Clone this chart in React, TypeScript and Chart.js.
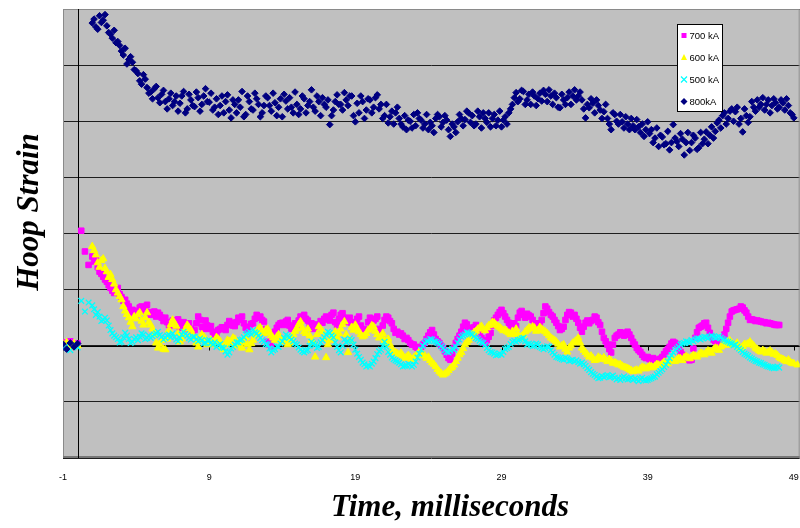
import { useEffect, useRef } from 'react';
import { Chart, registerables } from 'chart.js';

Chart.register(...registerables);

// Sample times (ms)
const TIME = [
  -1, -0.75, -0.5, -0.25, 0, 0.25, 0.5, 0.75,
  1, 1.25, 1.5, 1.75, 2, 2.25, 2.5, 2.75, 3, 3.25, 3.5, 3.75, 4, 4.25, 4.5, 4.75,
  5, 5.25, 5.5, 5.75, 6, 6.25, 6.5, 6.75, 7, 7.25, 7.5, 7.75, 8, 8.25, 8.5, 8.75,
  9, 9.25, 9.5, 9.75, 10, 10.25, 10.5, 10.75, 11, 11.25, 11.5, 11.75, 12, 12.25, 12.5, 12.75,
  13, 13.25, 13.5, 13.75, 14, 14.25, 14.5, 14.75, 15, 15.25, 15.5, 15.75, 16, 16.25, 16.5, 16.75,
  17, 17.25, 17.5, 17.75, 18, 18.25, 18.5, 18.75, 19, 19.25, 19.5, 19.75, 20, 20.25, 20.5, 20.75,
  21, 21.25, 21.5, 21.75, 22, 22.25, 22.5, 22.75, 23, 23.25, 23.5, 23.75, 24, 24.25, 24.5, 24.75,
  25, 25.25, 25.5, 25.75, 26, 26.25, 26.5, 26.75, 27, 27.25, 27.5, 27.75, 28, 28.25, 28.5, 28.75,
  29, 29.25, 29.5, 29.75, 30, 30.25, 30.5, 30.75, 31, 31.25, 31.5, 31.75, 32, 32.25, 32.5, 32.75,
  33, 33.25, 33.5, 33.75, 34, 34.25, 34.5, 34.75, 35, 35.25, 35.5, 35.75, 36, 36.25, 36.5, 36.75,
  37, 37.25, 37.5, 37.75, 38, 38.25, 38.5, 38.75, 39, 39.25, 39.5, 39.75, 40, 40.25, 40.5, 40.75,
  41, 41.25, 41.5, 41.75, 42, 42.25, 42.5, 42.75, 43, 43.25, 43.5, 43.75, 44, 44.25, 44.5, 44.75,
  45, 45.25, 45.5, 45.75, 46, 46.25, 46.5, 46.75, 47, 47.25, 47.5, 47.75, 48, 48.25, 48.5, 48.75,
  49, 49.25,
];

// In-between sample times (denser part of the record)
const TIME_B = [
  1.125, 1.375, 1.625, 1.875, 2.125, 2.375, 2.625, 2.875, 3.125, 3.375, 3.625, 3.875,
  4.125, 4.375, 4.625, 4.875, 5.125, 5.375, 5.625, 5.875, 6.125, 6.375, 6.625, 6.875,
  7.125, 7.375, 7.625, 7.875, 8.125, 8.375, 8.625, 8.875, 9.125, 9.375, 9.625, 9.875,
  10.125, 10.375, 10.625, 10.875, 11.125, 11.375, 11.625, 11.875, 12.125, 12.375, 12.625, 12.875,
  13.125, 13.375, 13.625, 13.875, 14.125, 14.375, 14.625, 14.875, 15.125, 15.375, 15.625, 15.875,
  16.125, 16.375, 16.625, 16.875, 17.125, 17.375, 17.625, 17.875, 18.125, 18.375, 18.625, 18.875,
  19.125, 19.375, 19.625, 19.875, 20.125, 20.375, 20.625, 20.875, 21.125, 21.375, 21.625, 21.875,
  22.125, 22.375, 22.625, 22.875, 23.125, 23.375, 23.625, 23.875, 24.125, 24.375, 24.625, 24.875,
  25.125, 25.375, 25.625, 25.875, 26.125, 26.375, 26.625, 26.875, 27.125, 27.375, 27.625, 27.875,
  28.125, 28.375, 28.625, 28.875, 29.125, 29.375, 29.625, 29.875, 30.125, 30.375, 30.625, 30.875,
  31.125, 31.375, 31.625, 31.875, 32.125, 32.375, 32.625, 32.875, 33.125, 33.375, 33.625, 33.875,
  34.125, 34.375, 34.625, 34.875, 35.125, 35.375, 35.625, 35.875, 36.125, 36.375, 36.625, 36.875,
  37.125, 37.375, 37.625, 37.875, 38.125, 38.375, 38.625, 38.875, 39.125, 39.375, 39.625, 39.875,
  40.125, 40.375, 40.625, 40.875, 41.125, 41.375, 41.625, 41.875, 42.125, 42.375, 42.625, 42.875,
  43.125, 43.375, 43.625, 43.875, 44.125, 44.375, 44.625, 44.875, 45.125, 45.375, 45.625, 45.875,
  46.125, 46.375, 46.625, 46.875, 47.125, 47.375, 47.625, 47.875, 48.125, 48.375, 48.625, 48.875,
];

const KA700 = [
  0.06, -0.03, 0.08, 0.0, 0.04, 2.05, 1.68, 1.44,
  1.59, 1.53, 1.32, 1.23, 1.14, 1.03, 0.94, 1.03, 0.87, 0.82, 0.70, 0.64, 0.55, 0.68, 0.62, 0.73,
  0.55, 0.61, 0.59, 0.50, 0.50, 0.37, 0.45, 0.41, 0.32, 0.42, 0.35, 0.30, 0.28, 0.52, 0.34, 0.45,
  0.30, 0.25, 0.22, 0.30, 0.32, 0.37, 0.41, 0.35, 0.50, 0.52, 0.32, 0.34, 0.40, 0.55, 0.52, 0.43,
  0.07, -0.02, 0.25, 0.37, 0.41, 0.43, 0.36, 0.34, 0.38, 0.52, 0.55, 0.45, 0.40, 0.35, 0.32, 0.41,
  0.52, 0.45, 0.59, 0.37, 0.55, 0.50, 0.46, 0.40, 0.42, 0.52, 0.23, 0.30, 0.50, 0.45, 0.52, 0.23,
  0.46, 0.50, 0.40, 0.23, 0.20, 0.18, 0.14, 0.05, 0.02, -0.04, -0.02, 0.05, 0.18, 0.28, 0.12, 0.05,
  -0.04, -0.16, -0.25, -0.04, 0.12, 0.25, 0.41, 0.32, 0.28, 0.37, 0.23, 0.07, 0.10, 0.23, 0.45, 0.55,
  0.64, 0.52, 0.41, 0.28, 0.35, 0.59, 0.55, 0.57, 0.52, 0.40, 0.34, 0.46, 0.70, 0.60, 0.52, 0.41,
  0.28, 0.34, 0.55, 0.59, 0.55, 0.41, 0.25, 0.41, 0.40, 0.46, 0.50, 0.37, 0.14, 0.02, -0.12, 0.14,
  0.20, 0.23, 0.20, 0.20, 0.07, -0.04, -0.11, -0.20, -0.20, -0.25, -0.25, -0.25, -0.20, -0.10, -0.02, 0.07,
  0.02, -0.11, -0.20, -0.25, -0.25, 0.14, 0.32, 0.36, 0.41, 0.23, 0.11, 0.05, 0.02, 0.20, 0.41, 0.61,
  0.64, 0.66, 0.68, 0.59, 0.46, 0.46, 0.45, 0.43, 0.42, 0.41, 0.39, 0.37, 0.37, null, null, null,
  null, null,
];

const KA700_B = [
  1.50, 1.40, 1.28, 1.18, 1.08, 0.98, 1.00, 0.92, 0.80, 0.75, 0.60, 0.58,
  0.62, 0.70, 0.66, 0.60, 0.58, 0.52, 0.55, 0.44, 0.42, 0.40, 0.36, 0.47,
  0.38, 0.30, 0.40, 0.26, 0.40, 0.46, 0.30, 0.36, 0.35, 0.20, 0.28, 0.33,
  0.28, 0.44, 0.36, 0.42, 0.46, 0.40, 0.28, 0.39, 0.48, 0.50, 0.46, 0.30,
  0.02, 0.12, 0.32, 0.40, 0.37, 0.46, 0.30, 0.40, 0.45, 0.50, 0.48, 0.38,
  0.30, 0.38, 0.44, 0.48, 0.47, 0.55, 0.42, 0.48, 0.58, 0.42, 0.50, 0.36,
  0.48, 0.36, 0.26, 0.42, 0.40, 0.48, 0.30, 0.36, 0.52, 0.44, 0.30, 0.25,
  0.22, 0.12, 0.10, 0.02, -0.02, -0.06, 0.02, 0.12, 0.24, 0.20, 0.08, 0.00,
  -0.10, -0.22, -0.14, 0.05, 0.18, 0.34, 0.38, 0.30, 0.33, 0.30, 0.14, 0.05,
  0.16, 0.36, 0.50, 0.60, 0.58, 0.46, 0.34, 0.40, 0.50, 0.62, 0.50, 0.54,
  0.46, 0.36, 0.40, 0.58, 0.66, 0.55, 0.46, 0.35, 0.30, 0.46, 0.60, 0.52,
  0.48, 0.32, 0.34, 0.45, 0.44, 0.52, 0.42, 0.25, 0.08, -0.06, 0.02, 0.18,
  0.24, 0.18, 0.25, 0.14, 0.02, -0.08, -0.16, -0.22, -0.24, -0.22, -0.27, -0.23,
  -0.15, -0.06, 0.04, 0.05, -0.04, -0.16, -0.23, -0.26, -0.05, 0.24, 0.34, 0.40,
  0.32, 0.16, 0.08, 0.04, 0.10, 0.30, 0.52, 0.63, 0.65, 0.70, 0.63, 0.52,
  0.47, 0.44, 0.44, 0.42, 0.40, 0.40, 0.38, 0.37, null, null, null, null,
];

const KA600 = [
  0.03, 0.06, -0.02, 0.04, 0.0, null, null, null,
  1.77, 1.62, 1.40, 1.55, 1.32, 1.27, 1.10, 0.94, 0.82, 0.62, 0.50, 0.34, 0.48, 0.59, 0.37, 0.59,
  0.37, 0.20, -0.04, 0.10, -0.07, 0.28, 0.46, 0.35, 0.07, 0.20, 0.37, 0.28, 0.15, -0.02, 0.20, 0.12,
  0.05, 0.02, 0.15, 0.08, -0.07, 0.10, 0.04, 0.12, 0.02, -0.04, 0.15, -0.07, 0.10, 0.25, 0.32, 0.22,
  0.30, 0.18, 0.10, 0.20, 0.07, 0.12, 0.05, 0.20, 0.30, 0.43, 0.25, 0.30, 0.10, -0.20, 0.34, 0.25,
  -0.21, 0.10, 0.20, 0.15, 0.30, 0.43, -0.12, 0.33, 0.37, 0.25, 0.16, 0.22, 0.30, 0.34, 0.20, 0.16,
  0.10, 0.12, -0.07, -0.12, -0.16, -0.18, -0.20, -0.21, -0.21, -0.15, -0.12, -0.18, -0.20, -0.30, -0.37, -0.46,
  -0.52, -0.48, -0.40, -0.34, -0.22, -0.12, 0.02, 0.10, 0.20, 0.26, 0.32, 0.30, 0.32, 0.38, 0.41, 0.35,
  0.30, 0.28, 0.23, 0.26, 0.30, 0.14, 0.20, 0.28, 0.30, 0.32, 0.28, 0.30, 0.25, 0.18, 0.12, 0.07,
  -0.02, 0.02, -0.11, 0.0, 0.07, 0.14, -0.04, -0.12, -0.20, -0.22, -0.25, -0.22, -0.21, -0.28, -0.27, -0.30,
  -0.34, -0.36, -0.39, -0.42, -0.46, -0.43, -0.41, -0.39, -0.39, -0.37, -0.36, -0.34, -0.32, -0.30, -0.27, -0.25,
  -0.25, -0.23, -0.21, -0.21, -0.20, -0.18, -0.16, -0.14, -0.12, -0.10, -0.07, -0.05, -0.02, 0.04, 0.07, 0.05,
  0.02, -0.02, -0.01, 0.02, 0.07, 0.0, -0.06, -0.11, -0.10, -0.11, -0.12, -0.14, -0.21, -0.24, -0.28, -0.29,
  -0.32, -0.34,
];

const KA600_B = [
  1.70, 1.48, 1.52, 1.38, 1.22, 1.18, 1.00, 0.88, 0.70, 0.56, 0.42, 0.52,
  0.55, 0.44, 0.50, 0.42, 0.30, 0.05, 0.02, -0.06, 0.12, 0.38, 0.40, 0.22,
  0.12, 0.30, 0.32, 0.20, 0.05, 0.10, 0.16, 0.02, 0.10, 0.06, 0.12, -0.02,
  0.02, 0.08, 0.14, 0.00, 0.08, 0.05, 0.02, 0.04, 0.18, 0.30, 0.26, 0.28,
  0.24, 0.14, 0.16, 0.12, 0.10, 0.02, 0.14, 0.26, 0.38, 0.32, 0.22, 0.18,
  0.05, 0.20, 0.30, 0.12, 0.02, 0.16, 0.25, 0.22, 0.38, 0.20, 0.10, 0.28,
  0.30, 0.20, 0.18, 0.28, 0.36, 0.26, 0.14, 0.22, 0.05, 0.02, -0.10, -0.14,
  -0.13, -0.22, -0.17, -0.24, -0.18, -0.10, -0.16, -0.22, -0.26, -0.33, -0.42, -0.49,
  -0.50, -0.44, -0.38, -0.28, -0.16, -0.05, 0.06, 0.15, 0.24, 0.30, 0.35, 0.27,
  0.36, 0.42, 0.37, 0.33, 0.27, 0.25, 0.20, 0.22, 0.20, 0.17, 0.25, 0.32,
  0.34, 0.26, 0.33, 0.27, 0.22, 0.14, 0.10, 0.03, 0.00, -0.06, -0.04, 0.05,
  0.10, 0.05, -0.08, -0.16, -0.18, -0.26, -0.20, -0.24, -0.25, -0.24, -0.31, -0.32,
  -0.33, -0.38, -0.40, -0.44, -0.44, -0.45, -0.38, -0.41, -0.36, -0.39, -0.33, -0.35,
  -0.29, -0.32, -0.24, -0.28, -0.22, -0.26, -0.19, -0.23, -0.17, -0.20, -0.13, -0.16,
  -0.09, -0.13, -0.04, -0.08, 0.02, 0.01, 0.09, 0.02, 0.05, -0.05, 0.03, 0.04,
  0.03, -0.04, -0.09, -0.08, -0.13, -0.09, -0.15, -0.17, -0.23, -0.26, -0.25, -0.31,
];

const KA500 = [
  -0.05, 0.0, -0.08, 0.02, -0.03, 0.80, 0.61, 0.77,
  0.72, 0.55, 0.52, 0.46, 0.45, 0.28, 0.18, 0.12, 0.07, 0.23, 0.12, 0.07, 0.15, 0.16, 0.20, 0.14,
  0.14, 0.20, 0.25, 0.16, 0.14, 0.20, 0.22, 0.11, 0.14, 0.25, 0.18, 0.11, 0.16, 0.08, 0.10, 0.05,
  0.10, 0.02, -0.02, 0.03, -0.04, -0.16, -0.05, 0.02, 0.06, 0.11, 0.20, 0.25, 0.28, 0.22, 0.14, 0.07,
  0.02, -0.12, -0.06, -0.02, 0.08, 0.20, 0.15, 0.08, 0.02, -0.07, -0.12, -0.08, 0.07, 0.02, -0.02, 0.10,
  0.20, 0.23, 0.15, -0.02, -0.12, 0.11, 0.08, 0.10, -0.07, -0.20, -0.30, -0.37, -0.37, -0.28, -0.15, -0.07,
  0.07, -0.11, -0.21, -0.26, -0.30, -0.37, -0.35, -0.34, -0.34, -0.21, -0.07, 0.05, 0.09, 0.11, 0.07, 0.03,
  -0.04, -0.11, -0.09, -0.07, 0.05, 0.16, 0.20, 0.23, 0.20, 0.14, 0.09, 0.05, -0.04, -0.11, -0.14, -0.16,
  -0.16, -0.06, -0.02, 0.07, 0.07, 0.11, 0.14, 0.02, 0.02, 0.0, 0.02, -0.04, -0.04, -0.02, -0.12, -0.20,
  -0.22, -0.25, -0.23, -0.26, -0.28, -0.29, -0.30, -0.36, -0.43, -0.50, -0.55, -0.57, -0.56, -0.52, -0.55, -0.57,
  -0.58, -0.57, -0.58, -0.59, -0.61, -0.60, -0.59, -0.61, -0.61, -0.58, -0.55, -0.48, -0.42, -0.34, -0.22, -0.12,
  -0.05, 0.02, 0.05, 0.07, 0.10, 0.11, 0.13, 0.14, 0.15, 0.16, 0.16, 0.15, 0.14, 0.10, 0.07, 0.04,
  0.02, -0.05, -0.11, -0.16, -0.21, -0.25, -0.28, -0.31, -0.34, -0.37, -0.39, -0.39, -0.39, null, null, null,
  null, null,
];

const KA500_B = [
  0.65, 0.60, 0.44, 0.50, 0.36, 0.22, 0.15, 0.06, 0.15, 0.18, 0.05, 0.12,
  0.10, 0.22, 0.12, 0.18, 0.17, 0.22, 0.19, 0.11, 0.18, 0.15, 0.16, 0.08,
  0.20, 0.21, 0.14, 0.16, 0.11, 0.13, 0.04, 0.09, 0.05, 0.06, 0.01, -0.03,
  -0.10, -0.12, -0.02, 0.06, 0.10, 0.15, 0.22, 0.20, 0.24, 0.18, 0.10, 0.03,
  -0.05, -0.08, -0.01, 0.04, 0.14, 0.17, 0.11, 0.04, -0.03, -0.10, -0.09, 0.00,
  0.04, -0.04, 0.06, 0.15, 0.25, 0.18, 0.06, -0.08, 0.00, 0.06, 0.13, 0.02,
  -0.14, -0.25, -0.33, -0.35, -0.32, -0.22, -0.10, 0.00, -0.02, -0.16, -0.24, -0.28,
  -0.33, -0.36, -0.32, -0.37, -0.28, -0.14, 0.00, 0.08, 0.12, 0.08, 0.05, -0.01,
  -0.08, -0.12, -0.05, -0.02, 0.11, 0.18, 0.24, 0.21, 0.17, 0.12, 0.06, 0.01,
  -0.08, -0.12, -0.17, -0.14, -0.11, -0.04, 0.03, 0.09, 0.10, 0.13, 0.08, 0.04,
  -0.01, 0.04, -0.02, -0.06, -0.01, -0.08, -0.16, -0.21, -0.24, -0.21, -0.27, -0.25,
  -0.26, -0.32, -0.33, -0.40, -0.47, -0.52, -0.58, -0.54, -0.54, -0.56, -0.53, -0.60,
  -0.61, -0.55, -0.60, -0.57, -0.58, -0.63, -0.57, -0.62, -0.59, -0.56, -0.51, -0.45,
  -0.38, -0.28, -0.17, -0.08, -0.02, 0.04, 0.08, 0.05, 0.08, 0.13, 0.11, 0.16,
  0.13, 0.18, 0.14, 0.17, 0.12, 0.08, 0.05, 0.01, -0.02, -0.08, -0.14, -0.18,
  -0.23, -0.27, -0.30, -0.33, -0.36, -0.38, -0.40, -0.37, null, null, null, null,
];

const KA800 = [
  0.03, -0.06, 0.05, -0.02, 0.04, null, null, null,
  5.75, 5.68, 5.88, 5.80, 5.70, 5.55, 5.62, 5.42, 5.25, 5.30, 5.10, 5.05, 4.90, 4.72, 4.83, 4.60,
  4.52, 4.58, 4.42, 4.48, 4.35, 4.40, 4.28, 4.45, 4.32, 4.53, 4.22, 4.38, 4.26, 4.42, 4.30, 4.58,
  4.34, 4.20, 4.40, 4.28, 4.15, 4.47, 4.06, 4.30, 4.38, 4.53, 4.12, 4.35, 4.20, 4.40, 4.08, 4.28,
  4.42, 4.18, 4.33, 4.25, 4.08, 4.36, 4.42, 4.15, 4.30, 4.22, 4.40, 4.28, 4.56, 4.18, 4.35, 4.42,
  4.25, 3.94, 4.20, 4.47, 4.30, 4.51, 4.28, 4.45, 3.99, 4.15, 4.35, 4.20, 4.38, 4.25, 4.47, 4.30,
  4.10, 3.97, 4.18, 4.15, 4.05, 3.90, 3.85, 4.00, 4.12, 4.15, 4.02, 3.95, 3.85, 3.92, 4.05, 4.08,
  3.98, 4.02, 3.73, 3.90, 3.99, 4.05, 4.03, 4.15, 4.10, 3.95, 4.08, 4.15, 3.98, 3.90, 4.12, 4.02,
  3.90, 4.08, 4.15, 4.30, 4.51, 4.40, 4.53, 4.38, 4.30, 4.45, 4.40, 4.36, 4.48, 4.56, 4.30, 4.42,
  4.24, 4.38, 4.42, 4.30, 4.56, 4.45, 4.38, 4.06, 4.24, 4.32, 4.38, 4.20, 4.17, 4.05, 3.85, 4.12,
  3.95, 3.99, 4.08, 3.85, 3.92, 4.03, 3.80, 3.73, 3.99, 3.85, 3.70, 3.55, 3.72, 3.60, 3.49, 3.94,
  3.64, 3.78, 3.40, 3.80, 3.62, 3.70, 3.53, 3.60, 3.81, 3.75, 3.70, 3.97, 3.88, 4.15, 4.05, 4.22,
  4.17, 3.95, 3.81, 4.10, 4.08, 4.25, 4.38, 4.30, 4.20, 4.38, 4.28, 4.33, 4.25, 4.33, 4.40, 4.15,
  4.06, null,
];

const KA800_B = [
  5.82, 5.64, 5.76, 5.90, 5.58, 5.48, 5.40, 5.35, 5.18, 5.02, 5.15, 4.92,
  4.85, 4.66, 4.75, 4.50, 4.40, 4.62, 4.33, 4.55, 4.22, 4.50, 4.35, 4.18,
  4.45, 4.15, 4.48, 4.28, 4.52, 4.18, 4.45, 4.35, 4.50, 4.25, 4.12, 4.45,
  4.35, 4.20, 4.38, 4.15, 4.25, 4.08, 4.45, 4.22, 4.50, 4.30, 4.15, 4.45,
  4.28, 4.50, 4.10, 4.40, 4.48, 4.22, 4.25, 4.52, 4.12, 4.45, 4.15, 4.35,
  4.25, 4.45, 4.10, 4.30, 4.38, 4.10, 4.35, 4.30, 4.20, 4.38, 4.45, 4.10,
  4.32, 4.45, 4.05, 4.40, 4.15, 4.42, 4.22, 4.05, 4.30, 4.08, 3.95, 4.25,
  3.95, 4.10, 4.02, 3.88, 3.92, 4.05, 3.88, 4.12, 3.98, 3.80, 4.12, 3.90,
  4.10, 3.85, 3.95, 3.80, 4.12, 3.92, 4.18, 3.98, 3.92, 4.18, 3.88, 4.05,
  4.15, 4.05, 3.92, 4.18, 4.02, 3.95, 4.22, 4.42, 4.35, 4.55, 4.30, 4.48,
  4.52, 4.28, 4.50, 4.55, 4.35, 4.45, 4.50, 4.25, 4.48, 4.30, 4.52, 4.45,
  4.38, 4.52, 4.22, 4.30, 4.40, 4.15, 4.28, 4.05, 4.30, 3.95, 4.15, 4.00,
  4.12, 3.88, 3.95, 4.05, 3.85, 3.90, 3.95, 3.85, 3.78, 3.62, 3.88, 3.75,
  3.58, 3.82, 3.62, 3.70, 3.55, 3.68, 3.62, 3.48, 3.75, 3.50, 3.80, 3.68,
  3.60, 3.90, 3.82, 4.02, 4.10, 3.95, 4.18, 4.00, 4.25, 4.05, 4.22, 3.98,
  4.35, 4.18, 4.25, 4.42, 4.30, 4.15, 4.40, 4.22, 4.38, 4.20, 4.28, 4.12,
];

const SERIES_LABELS = ['700 kA', '600 kA', '500 kA', '800kA'];
const X_TICKS = [-1, 9, 19, 29, 39, 49];
const X_MIN = -1;
const X_MAX = 49.4;
const Y_MIN = -2;
const Y_MAX = 6;
const X_TITLE = 'Time, milliseconds';
const Y_TITLE = 'Hoop Strain';

const toPoints = (times: number[], vals: (number | null)[]) =>
  times.map((t, i) => ({ x: t, y: vals[i] })).filter((p) => p.y !== null && p.y !== undefined);

const plotFrame = {
  id: 'plotFrame',
  beforeDraw(chart: any) {
    const { ctx, chartArea: a } = chart;
    ctx.save();
    ctx.fillStyle = '#C0C0C0';
    ctx.fillRect(a.left, a.top, a.right - a.left, a.bottom - a.top);
    ctx.restore();
  },
  beforeDatasetsDraw(chart: any) {
    const { ctx, chartArea: a, scales } = chart;
    const x0 = Math.round(scales.x.getPixelForValue(0)) + 0.5;
    const y0 = Math.round(scales.y.getPixelForValue(0)) + 0.5;
    ctx.save();
    ctx.strokeStyle = '#8a8a8a';
    ctx.lineWidth = 1;
    ctx.strokeRect(a.left + 0.5, a.top + 0.5, a.right - a.left - 1, a.bottom - a.top - 1);
    ctx.strokeStyle = '#777';
    ctx.lineWidth = 2;
    ctx.beginPath();
    ctx.moveTo(a.left, a.bottom - 1);
    ctx.lineTo(a.right, a.bottom - 1);
    ctx.stroke();
    ctx.strokeStyle = '#000';
    ctx.lineWidth = 1;
    ctx.beginPath();
    ctx.moveTo(x0, a.top);
    ctx.lineTo(x0, a.bottom);
    ctx.moveTo(a.left, y0);
    ctx.lineTo(a.right, y0);
    X_TICKS.forEach((v) => {
      const px = Math.round(scales.x.getPixelForValue(v)) + 0.5;
      ctx.moveTo(px, y0);
      ctx.lineTo(px, y0 + 4);
    });
    ctx.stroke();
    ctx.restore();
  },
  afterDraw(chart: any) {
    const { ctx, chartArea: a } = chart;
    ctx.save();
    ctx.fillStyle = '#000';
    ctx.font = 'bold italic 31px "Liberation Serif", "Times New Roman", serif';
    ctx.textAlign = 'center';
    ctx.textBaseline = 'middle';
    ctx.fillText(X_TITLE, 450, 508);
    ctx.translate(30, 212);
    ctx.rotate(-Math.PI / 2);
    ctx.fillText(Y_TITLE, 0, 0);
    ctx.restore();

    ctx.save();
    const bx = Math.round(a.right - 123) + 0.5;
    const by = Math.round(a.top + 15) + 0.5;
    const bw = 45;
    const bh = 87;
    ctx.fillStyle = '#fff';
    ctx.fillRect(bx, by, bw, bh);
    ctx.strokeStyle = '#000';
    ctx.lineWidth = 1;
    ctx.strokeRect(bx, by, bw, bh);
    ctx.font = '9.5px "Liberation Sans", Arial, sans-serif';
    ctx.textAlign = 'left';
    ctx.textBaseline = 'middle';
    chart.data.datasets.forEach((ds: any, i: number) => {
      const cy = by + 11 + i * 22;
      const mx = bx + 6.5;
      ctx.fillStyle = ds.backgroundColor;
      ctx.strokeStyle = ds.borderColor;
      ctx.beginPath();
      if (ds.pointStyle === 'rect') {
        ctx.fillRect(mx - 2.5, cy - 2.5, 5, 5);
      } else if (ds.pointStyle === 'triangle') {
        ctx.moveTo(mx, cy - 3.5);
        ctx.lineTo(mx + 3, cy + 2.5);
        ctx.lineTo(mx - 3, cy + 2.5);
        ctx.closePath();
        ctx.fill();
      } else if (ds.pointStyle === 'crossRot') {
        ctx.lineWidth = 1.2;
        ctx.moveTo(mx - 3, cy - 3);
        ctx.lineTo(mx + 3, cy + 3);
        ctx.moveTo(mx + 3, cy - 3);
        ctx.lineTo(mx - 3, cy + 3);
        ctx.stroke();
      } else {
        ctx.moveTo(mx, cy - 3.5);
        ctx.lineTo(mx + 3.5, cy);
        ctx.lineTo(mx, cy + 3.5);
        ctx.lineTo(mx - 3.5, cy);
        ctx.closePath();
        ctx.fill();
      }
      ctx.fillStyle = '#000';
      ctx.fillText(ds.label, bx + 12, cy + 0.5);
    });
    ctx.restore();
  },
};

export default function App() {
  const canvasRef = useRef<HTMLCanvasElement | null>(null);

  useEffect(() => {
    if (!canvasRef.current) return;
    const chart = new Chart(canvasRef.current, {
      type: 'scatter',
      data: {
        datasets: [
          {
            label: SERIES_LABELS[0],
            data: [...toPoints(TIME, KA700), ...toPoints(TIME_B, KA700_B)],
            pointStyle: 'rect',
            pointRadius: 3.9,
            backgroundColor: '#FF00FF',
            borderColor: '#FF00FF',
            borderWidth: 1,
            order: 4,
          },
          {
            label: SERIES_LABELS[1],
            data: [...toPoints(TIME, KA600), ...toPoints(TIME_B, KA600_B)],
            pointStyle: 'triangle',
            pointRadius: 4.2,
            backgroundColor: '#FFFF00',
            borderColor: '#FFFF00',
            borderWidth: 1,
            order: 3,
          },
          {
            label: SERIES_LABELS[2],
            data: [...toPoints(TIME, KA500), ...toPoints(TIME_B, KA500_B)],
            pointStyle: 'crossRot',
            pointRadius: 4,
            backgroundColor: '#00FFFF',
            borderColor: '#00FFFF',
            borderWidth: 1.3,
            order: 2,
          },
          {
            label: SERIES_LABELS[3],
            data: [...toPoints(TIME, KA800), ...toPoints(TIME_B, KA800_B)],
            pointStyle: 'rectRot',
            pointRadius: 3.3,
            backgroundColor: '#000080',
            borderColor: '#000080',
            borderWidth: 1,
            order: 1,
          },
        ],
      },
      options: {
        responsive: false,
        animation: false,
        devicePixelRatio: 1,
        events: [],
        layout: { padding: { left: 63, top: 9, right: 0, bottom: 31.2 } },
        plugins: {
          legend: { display: false },
          tooltip: { enabled: false },
        },
        scales: {
          x: {
            type: 'linear',
            position: 'bottom',
            min: X_MIN,
            max: X_MAX,
            grid: { display: false, drawTicks: false },
            border: { display: false },
            afterBuildTicks: (scale: any) => {
              scale.ticks = X_TICKS.map((v) => ({ value: v }));
            },
            afterFit: (scale: any) => {
              scale.paddingLeft = 0;
              scale.paddingRight = 0;
            },
            ticks: {
              padding: 14,
              color: '#000',
              maxRotation: 0,
              autoSkip: false,
              font: { family: '"Liberation Sans", Arial, sans-serif', size: 9 },
            },
          },
          y: {
            type: 'linear',
            position: 'left',
            min: Y_MIN,
            max: Y_MAX,
            grid: { color: '#1e1e1e', lineWidth: 1, drawTicks: false },
            border: { display: false },
            ticks: { display: false, stepSize: 1 },
          },
        },
      },
      plugins: [plotFrame],
    });
    return () => chart.destroy();
  }, []);

  return (
    <div style={{ position: 'fixed', left: 0, top: 0, width: 800, height: 528, background: '#fff', overflow: 'hidden' }}>
      <canvas ref={canvasRef} width={805} height={528} style={{ width: 805, height: 528, display: 'block' }} />
    </div>
  );
}
